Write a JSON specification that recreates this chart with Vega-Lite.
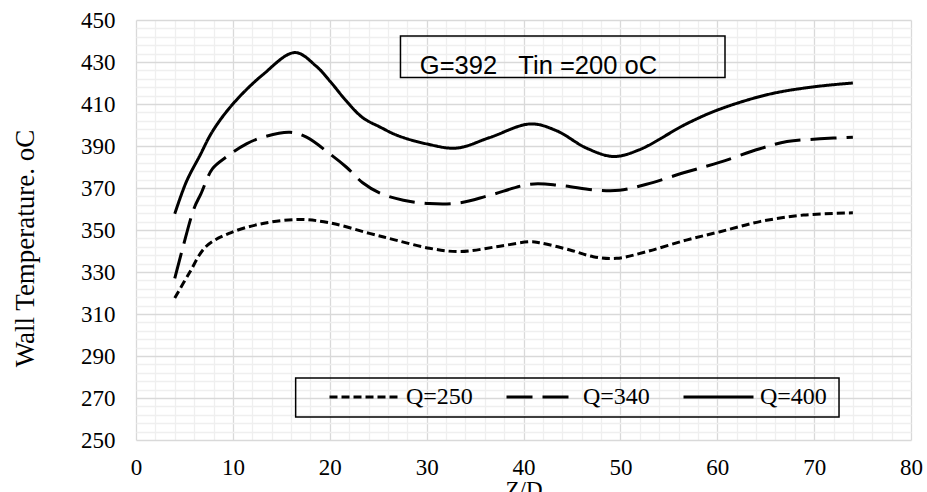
{
  "$schema": "https://vega.github.io/schema/vega-lite/v6.json",
  "width": 775,
  "height": 420,
  "autosize": "none",
  "padding": {"left": 136, "top": 20, "right": 16, "bottom": 52},
  "background": "white",
  "config": {"view": {"stroke": null}, "font": "Liberation Serif"},
  "resolve": {"axis": {"x": "independent", "y": "independent"}},
  "layer": [
    {
      "data": {
        "values": [
          {"series": "Q=400", "zd": 4, "temp": 357.7},
          {"series": "Q=400", "zd": 5.2, "temp": 373},
          {"series": "Q=400", "zd": 6.6, "temp": 385.5},
          {"series": "Q=400", "zd": 7.9, "temp": 397},
          {"series": "Q=400", "zd": 10, "temp": 410},
          {"series": "Q=400", "zd": 13.1, "temp": 424},
          {"series": "Q=400", "zd": 16.4, "temp": 434.5},
          {"series": "Q=400", "zd": 18.6, "temp": 428},
          {"series": "Q=400", "zd": 20, "temp": 421},
          {"series": "Q=400", "zd": 21.7, "temp": 411.5},
          {"series": "Q=400", "zd": 23.4, "temp": 403.5},
          {"series": "Q=400", "zd": 25.2, "temp": 399},
          {"series": "Q=400", "zd": 27, "temp": 395},
          {"series": "Q=400", "zd": 30, "temp": 391},
          {"series": "Q=400", "zd": 33.1, "temp": 389},
          {"series": "Q=400", "zd": 36.5, "temp": 394},
          {"series": "Q=400", "zd": 40.7, "temp": 400.5},
          {"series": "Q=400", "zd": 43.4, "temp": 397.3},
          {"series": "Q=400", "zd": 46.5, "temp": 389},
          {"series": "Q=400", "zd": 49.3, "temp": 385},
          {"series": "Q=400", "zd": 52, "temp": 388.3},
          {"series": "Q=400", "zd": 56.8, "temp": 400.5},
          {"series": "Q=400", "zd": 60.3, "temp": 407.6},
          {"series": "Q=400", "zd": 65.4, "temp": 414.7},
          {"series": "Q=400", "zd": 70, "temp": 418.2},
          {"series": "Q=400", "zd": 74, "temp": 420},
          {"series": "Q=340", "zd": 4, "temp": 327},
          {"series": "Q=340", "zd": 4.8, "temp": 341},
          {"series": "Q=340", "zd": 6, "temp": 360.4},
          {"series": "Q=340", "zd": 6.7, "temp": 367.2},
          {"series": "Q=340", "zd": 7.9, "temp": 379.2},
          {"series": "Q=340", "zd": 9.3, "temp": 384.7},
          {"series": "Q=340", "zd": 11.4, "temp": 391},
          {"series": "Q=340", "zd": 13.1, "temp": 394.2},
          {"series": "Q=340", "zd": 15.9, "temp": 396.5},
          {"series": "Q=340", "zd": 17.6, "temp": 394.2},
          {"series": "Q=340", "zd": 20, "temp": 386.3},
          {"series": "Q=340", "zd": 21.7, "temp": 380},
          {"series": "Q=340", "zd": 23.4, "temp": 372.5},
          {"series": "Q=340", "zd": 25.2, "temp": 367.5},
          {"series": "Q=340", "zd": 27.6, "temp": 364.2},
          {"series": "Q=340", "zd": 30.3, "temp": 362.6},
          {"series": "Q=340", "zd": 33.4, "temp": 362.9},
          {"series": "Q=340", "zd": 36.5, "temp": 366.5},
          {"series": "Q=340", "zd": 40.7, "temp": 371.8},
          {"series": "Q=340", "zd": 43.7, "temp": 371.3},
          {"series": "Q=340", "zd": 47.5, "temp": 369},
          {"series": "Q=340", "zd": 49.9, "temp": 368.9},
          {"series": "Q=340", "zd": 52.7, "temp": 371.8},
          {"series": "Q=340", "zd": 56.8, "temp": 377.6},
          {"series": "Q=340", "zd": 60.3, "temp": 382.3},
          {"series": "Q=340", "zd": 64.4, "temp": 388.7},
          {"series": "Q=340", "zd": 67.2, "temp": 392.1},
          {"series": "Q=340", "zd": 70.6, "temp": 393.4},
          {"series": "Q=340", "zd": 74, "temp": 394.2},
          {"series": "Q=250", "zd": 4, "temp": 317.6},
          {"series": "Q=250", "zd": 5.5, "temp": 329.5},
          {"series": "Q=250", "zd": 7.2, "temp": 342},
          {"series": "Q=250", "zd": 9.6, "temp": 348.4},
          {"series": "Q=250", "zd": 13.1, "temp": 353.1},
          {"series": "Q=250", "zd": 16.9, "temp": 355},
          {"series": "Q=250", "zd": 20, "temp": 353.4},
          {"series": "Q=250", "zd": 24.1, "temp": 348.4},
          {"series": "Q=250", "zd": 26.8, "temp": 345.2},
          {"series": "Q=250", "zd": 30.3, "temp": 341.3},
          {"series": "Q=250", "zd": 33.4, "temp": 339.7},
          {"series": "Q=250", "zd": 37.2, "temp": 342},
          {"series": "Q=250", "zd": 40.7, "temp": 344.4},
          {"series": "Q=250", "zd": 41.7, "temp": 343.9},
          {"series": "Q=250", "zd": 44.8, "temp": 340.5},
          {"series": "Q=250", "zd": 47.2, "temp": 337.3},
          {"series": "Q=250", "zd": 49.6, "temp": 336.5},
          {"series": "Q=250", "zd": 52.7, "temp": 339.7},
          {"series": "Q=250", "zd": 56.8, "temp": 345.2},
          {"series": "Q=250", "zd": 60.3, "temp": 349.2},
          {"series": "Q=250", "zd": 64.4, "temp": 354},
          {"series": "Q=250", "zd": 68.9, "temp": 357.1},
          {"series": "Q=250", "zd": 74, "temp": 358.2}
        ]
      },
      "mark": {"type": "line", "interpolate": "catmull-rom", "color": "black", "strokeWidth": 3},
      "encoding": {
        "x": {
          "field": "zd",
          "type": "quantitative",
          "scale": {"domain": [0, 80], "nice": false, "zero": false},
          "axis": {
            "values": [0,2,4,6,8,10,12,14,16,18,20,22,24,26,28,30,32,34,36,38,40,42,44,46,48,50,52,54,56,58,60,62,64,66,68,70,72,74,76,78,80],
            "grid": true,
            "gridColor": {"condition": {"test": "datum.value % 10 === 0", "value": "#d9d9d9"}, "value": "#efefef"},
            "gridWidth": 1.3,
            "domain": false,
            "ticks": false,
            "tickSize": 0,
            "labelExpr": "datum.value % 10 === 0 ? datum.label : ''",
            "labelFont": "Liberation Serif",
            "labelFontSize": 23,
            "labelColor": "black",
            "labelPadding": 16,
            "labelFlush": false,
            "labelOverlap": false,
            "labelBound": false,
            "title": "Z/D",
            "titleFont": "Liberation Serif",
            "titleFontSize": 23,
            "titleFontWeight": "normal",
            "titleColor": "black",
            "titleBaseline": "alphabetic",
            "titleY": 56
          }
        },
        "y": {
          "field": "temp",
          "type": "quantitative",
          "scale": {"domain": [250, 450], "nice": false, "zero": false},
          "axis": {
            "values": [250,254,258,262,266,270,274,278,282,286,290,294,298,302,306,310,314,318,322,326,330,334,338,342,346,350,354,358,362,366,370,374,378,382,386,390,394,398,402,406,410,414,418,422,426,430,434,438,442,446,450],
            "grid": true,
            "gridColor": {"condition": {"test": "datum.value % 20 === 10", "value": "#d9d9d9"}, "value": "#efefef"},
            "gridWidth": 1.3,
            "domain": false,
            "ticks": false,
            "tickSize": 0,
            "labelExpr": "datum.value % 20 === 10 ? datum.label : ''",
            "labelFont": "Liberation Serif",
            "labelFontSize": 23,
            "labelColor": "black",
            "labelPadding": 21,
            "labelOverlap": false,
            "labelBound": false,
            "labelFlush": false,
            "title": "Wall Temperature. oC",
            "titleFont": "Liberation Serif",
            "titleFontSize": 27,
            "titleFontWeight": "normal",
            "titleColor": "black",
            "titleBaseline": "alphabetic",
            "titleAlign": "center",
            "titleX": -103,
            "titleY": 228
          }
        },
        "strokeDash": {
          "field": "series",
          "type": "nominal",
          "scale": {"domain": ["Q=250", "Q=340", "Q=400"], "range": [[8, 4], [26, 10], [1, 0]]},
          "legend": {
            "orient": "none",
            "legendX": 192,
            "legendY": 365,
            "direction": "horizontal",
            "title": null,
            "padding": 0,
            "columnPadding": 32,
            "clipHeight": 24,
            "symbolType": "stroke",
            "symbolSize": 4900,
            "symbolStrokeWidth": 3,
            "symbolStrokeColor": "black",
            "labelFont": "Liberation Serif",
            "labelFontSize": 24,
            "labelColor": "black",
            "labelOffset": 5,
            "labelLimit": 300
          }
        }
      }
    },
    {
      "data": {"values": [{"label": "G=392\u00a0\u00a0\u00a0Tin =200 oC"}]},
      "mark": {"type": "text", "font": "Liberation Sans", "fontSize": 25.5, "align": "left", "baseline": "alphabetic", "color": "black"},
      "encoding": {
        "x": {"datum": 29.3, "type": "quantitative", "axis": null},
        "y": {"datum": 424.4, "type": "quantitative", "axis": null},
        "text": {"field": "label"}
      }
    },
    {
      "data": {"values": [{"label": "title box"}]},
      "mark": {"type": "rect", "fill": null, "stroke": "black", "strokeWidth": 1.5},
      "encoding": {
        "x": {"datum": 27.3, "type": "quantitative", "axis": null},
        "x2": {"datum": 60.8},
        "y": {"datum": 442.4, "type": "quantitative", "axis": null},
        "y2": {"datum": 422.6}
      }
    },
    {
      "data": {"values": [{"label": "legend box"}]},
      "mark": {"type": "rect", "fill": null, "stroke": "black", "strokeWidth": 1.5},
      "encoding": {
        "x": {"datum": 16.48, "type": "quantitative", "axis": null},
        "x2": {"datum": 72.57},
        "y": {"datum": 279.5, "type": "quantitative", "axis": null},
        "y2": {"datum": 260.9}
      }
    }
  ]
}
